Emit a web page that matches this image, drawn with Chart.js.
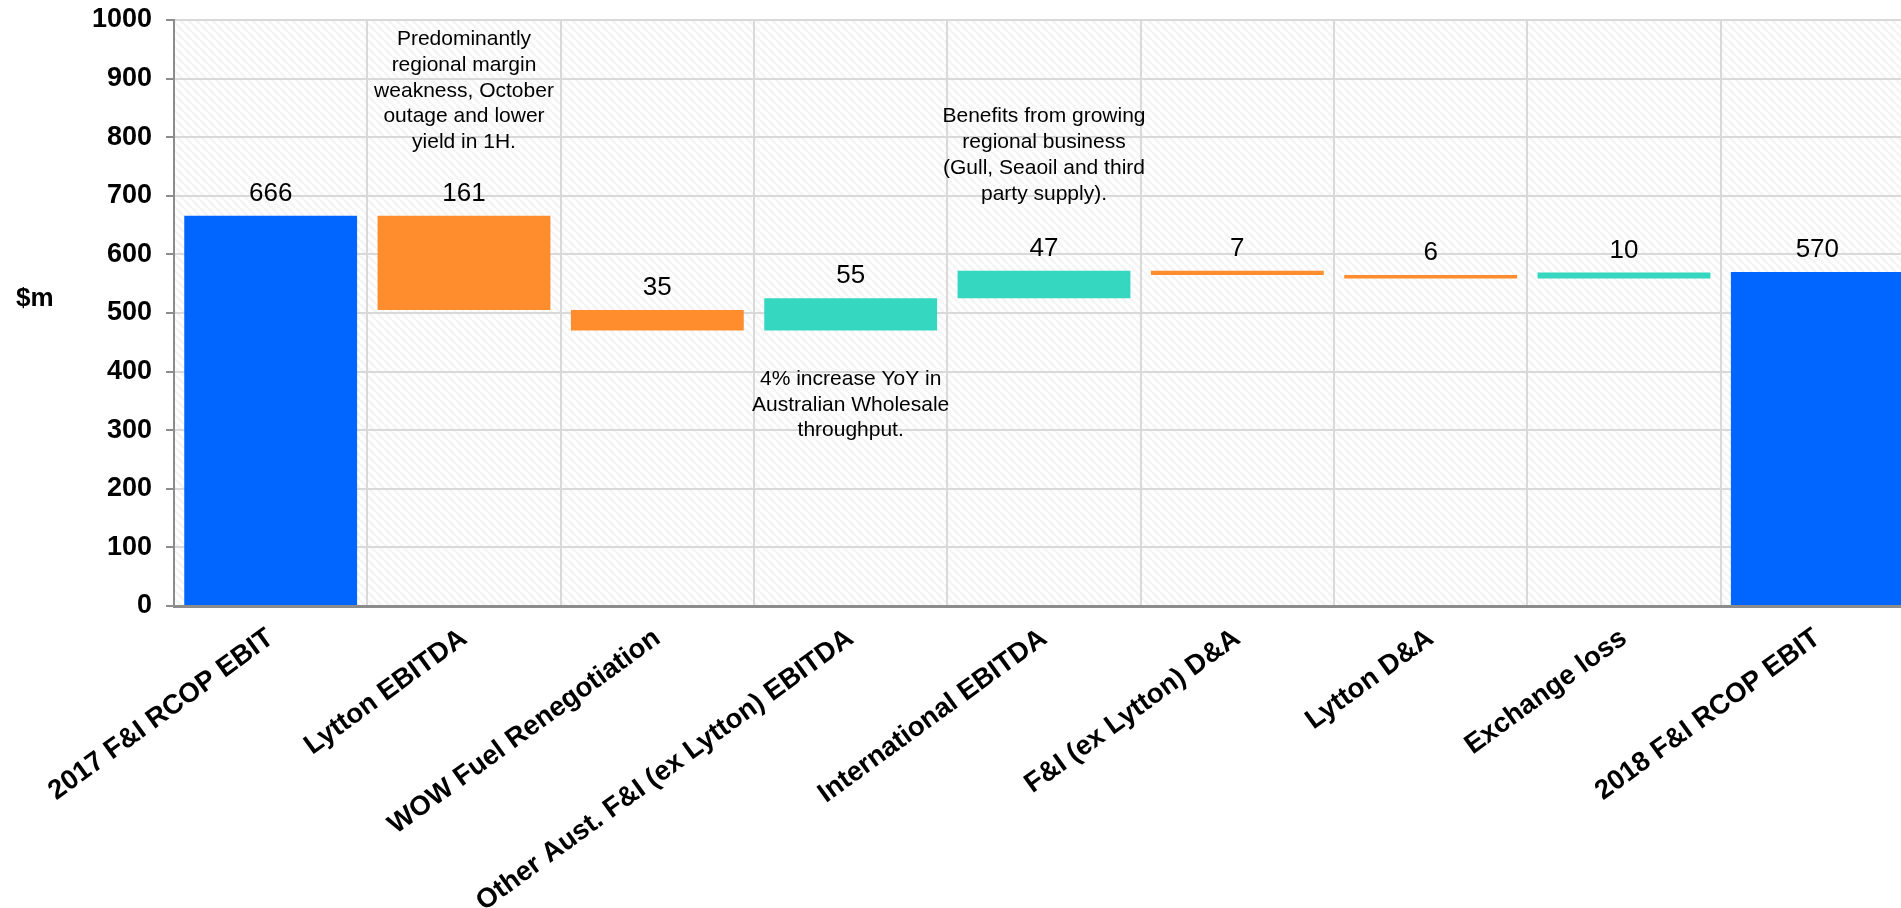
<!DOCTYPE html>
<html>
<head>
<meta charset="utf-8">
<script src="https://cdn.jsdelivr.net/npm/chart.js@4.4.1/dist/chart.umd.min.js"></script>
<style>
    html, body { margin: 0; padding: 0; background: #fff; overflow: hidden; }
    #wrap { width: 1914px; height: 908px; }
</style>
</head>
<body>
<div id="wrap"><canvas id="bridgeChart" width="1914" height="908"></canvas></div>
<script>
// F&I RCOP EBIT bridge, 2017 -> 2018 ($m)
const categories = [
    '2017 F&I RCOP EBIT',
    'Lytton EBITDA',
    'WOW Fuel Renegotiation',
    'Other Aust. F&I (ex Lytton) EBITDA',
    'International EBITDA',
    'F&I (ex Lytton) D&A',
    'Lytton D&A',
    'Exchange loss',
    '2018 F&I RCOP EBIT'
];
// first and last entries are totals, the rest are movements
const stepValues = [666, -161, -35, 55, 47, -7, -6, 10, 570];
const stepKinds = ['total', 'down', 'down', 'up', 'up', 'down', 'down', 'up', 'total'];
const yTicks = [0, 100, 200, 300, 400, 500, 600, 700, 800, 900, 1000];

const notes = [
    { category: 'Lytton EBITDA', lines: ['Predominantly', 'regional margin', 'weakness, October', 'outage and lower', 'yield in 1H.'] },
    { category: 'International EBITDA', lines: ['Benefits from growing', 'regional business', '(Gull, Seaoil and third', 'party supply).'] },
    { category: 'Other Aust. F&I (ex Lytton) EBITDA', lines: ['4% increase YoY in', 'Australian Wholesale', 'throughput.'] }
];
// value (on the $m axis) where the first line of each note sits
const noteTops = [967, 835, 387];

const kindColors = { total: '#0066ff', down: '#ff8c2d', up: '#36d7c0' };
const FONT = '"Liberation Sans", Arial, sans-serif';

// floating [start, end] pairs for the waterfall
let running = 0;
const floating = stepValues.map((v, i) => {
    if (stepKinds[i] === 'total') {
        running = v;
        return [0, v];
    }
    const start = running;
    running += v;
    return [start, running];
});

function makeHatch() {
    const s = 8;
    const c = document.createElement('canvas');
    c.width = s; c.height = s;
    const g = c.getContext('2d');
    g.fillStyle = '#ffffff';
    g.fillRect(0, 0, s, s);
    g.strokeStyle = '#f5f5f5';
    g.lineWidth = 3;
    for (let x0 = -s; x0 <= s; x0 += s) {
        g.beginPath();
        g.moveTo(x0, 0);
        g.lineTo(x0 + s, s);
        g.stroke();
    }
    return c;
}

const hatchBackground = {
    id: 'hatchBackground',
    beforeDraw(chart) {
        const { ctx, chartArea: a } = chart;
        ctx.save();
        ctx.fillStyle = ctx.createPattern(makeHatch(), 'repeat');
        ctx.fillRect(a.left, a.top, a.right - a.left, a.bottom - a.top);
        ctx.restore();
    }
};

const valueLabels = {
    id: 'valueLabels',
    afterDatasetsDraw(chart) {
        const { ctx } = chart;
        const meta = chart.getDatasetMeta(0);
        ctx.save();
        ctx.font = '26px ' + FONT;
        ctx.fillStyle = '#000';
        ctx.textAlign = 'center';
        ctx.textBaseline = 'alphabetic';
        meta.data.forEach((bar, i) => {
            const { x, y, base } = bar.getProps(['x', 'y', 'base'], true);
            ctx.fillText(String(Math.abs(stepValues[i])), x, Math.min(y, base) - 15);
        });
        ctx.restore();
    }
};

const notesAndUnit = {
    id: 'notesAndUnit',
    afterDraw(chart) {
        const { ctx, scales } = chart;
        ctx.save();
        ctx.fillStyle = '#000';

        ctx.font = 'bold 26px ' + FONT;
        ctx.textAlign = 'left';
        ctx.textBaseline = 'middle';
        ctx.fillText('$m', 16, scales.y.getPixelForValue(525));

        ctx.font = '21px ' + FONT;
        ctx.textAlign = 'center';
        notes.forEach((note, n) => {
            const cx = scales.x.getPixelForValue(categories.indexOf(note.category));
            const top = scales.y.getPixelForValue(noteTops[n]);
            note.lines.forEach((line, k) => ctx.fillText(line, cx, top + k * 25.7));
        });
        ctx.restore();
    }
};

new Chart(document.getElementById('bridgeChart'), {
    type: 'bar',
    data: {
        labels: categories,
        datasets: [{
            data: floating,
            backgroundColor: stepKinds.map(k => kindColors[k]),
            borderWidth: 0,
            barPercentage: 0.894,
            categoryPercentage: 1
        }]
    },
    options: {
        responsive: false,
        animation: false,
        layout: { padding: { top: 20, left: 0, right: 0, bottom: 0 } },
        plugins: {
            legend: { display: false },
            tooltip: { enabled: false },
            title: { display: false }
        },
        scales: {
            x: {
                grid: { display: true, offset: true, color: '#d9d9d9', lineWidth: 2, drawTicks: false },
                border: { display: true, color: '#8c8c8c', width: 3 },
                ticks: {
                    autoSkip: false,
                    minRotation: 36,
                    maxRotation: 36,
                    padding: 16,
                    color: '#000',
                    font: { family: FONT, size: 27.5, weight: 'bold' }
                },
                afterFit(scale) { scale.height = 302; }
            },
            y: {
                min: 0,
                max: 1000,
                afterBuildTicks(scale) { scale.ticks = yTicks.map(v => ({ value: v })); },
                grid: { color: '#d9d9d9', lineWidth: 2, tickLength: 8, tickColor: '#8c8c8c' },
                border: { display: true, color: '#8c8c8c', width: 2 },
                ticks: {
                    padding: 14,
                    color: '#000',
                    font: { family: FONT, size: 27, weight: 'bold' },
                    callback: v => String(v)
                },
                afterFit(scale) {
                    scale.width = 174;
                    scale.paddingTop = 0;
                    scale.paddingBottom = 0;
                }
            }
        }
    },
    plugins: [hatchBackground, valueLabels, notesAndUnit]
});
</script>
</body>
</html>
